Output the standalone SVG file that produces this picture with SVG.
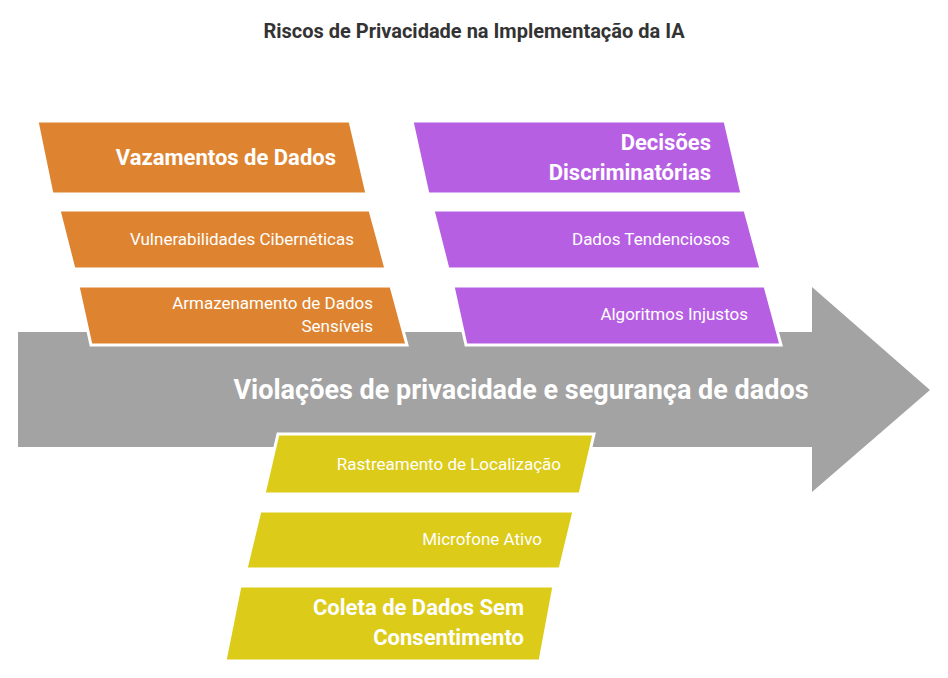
<svg xmlns="http://www.w3.org/2000/svg" width="948" height="678" viewBox="0 0 948 678">
<style>
text{font-family:Roboto,"Liberation Sans",sans-serif;fill:#fff}
.t{fill:#333;font-weight:bold;font-size:20px}
.b{font-weight:bold;font-size:22px}
.s{font-size:17px}
.o{fill:#de8431;stroke:#fff;stroke-width:3}
.p{fill:#b75fe3;stroke:#fff;stroke-width:3}
.y{fill:#dccb18;stroke:#fff;stroke-width:3}
</style>
<rect width="948" height="678" fill="#fff"/>
<text class="t" x="474" y="38" text-anchor="middle">Riscos de Privacidade na Implementação da IA</text>
<g id="spine">
<polygon points="18,332 812,332 812,287 930,390 812,492 812,447 18,447" fill="#a3a3a3"/>
<text class="b" x="521" y="399" text-anchor="middle" style="font-size:27px">Violações de privacidade e segurança de dados</text>
</g>
<g id="o1"><polygon class="o" points="37,121 350,121 367,194 52,194"/><text class="b" x="336" y="165" text-anchor="end">Vazamentos de Dados</text></g>
<g id="o2"><polygon class="o" points="59,210 370,210 386,269 74,269"/><text class="s" x="354" y="245" text-anchor="end">Vulnerabilidades Cibernéticas</text></g>
<g id="o3"><polygon class="o" points="78,286 391,286 407,345 91,345"/><text class="s" x="373" y="309" text-anchor="end">Armazenamento de Dados</text><text class="s" x="373" y="332" text-anchor="end">Sensíveis</text></g>
<g id="p1"><polygon class="p" points="412,121 725,121 742,194 428,194"/><text class="b" x="711" y="150" text-anchor="end">Decisões</text><text class="b" x="711" y="180" text-anchor="end">Discriminatórias</text></g>
<g id="p2"><polygon class="p" points="433,210 745,210 761,269 448,269"/><text class="s" x="730" y="245" text-anchor="end">Dados Tendenciosos</text></g>
<g id="p3"><polygon class="p" points="453,286 765,286 781,345 466,345"/><text class="s" x="748" y="320" text-anchor="end">Algoritmos Injustos</text></g>
<g id="y1"><polygon class="y" points="278,434 594,434 580,494 264,494"/><text class="s" x="561" y="470" text-anchor="end">Rastreamento de Localização</text></g>
<g id="y2"><polygon class="y" points="260,511 574,511 560,569 246,569"/><text class="s" x="542" y="545" text-anchor="end">Microfone Ativo</text></g>
<g id="y3"><polygon class="y" points="240,586 554,586 540,661 225,661"/><text class="b" x="524" y="615" text-anchor="end">Coleta de Dados Sem</text><text class="b" x="524" y="645" text-anchor="end">Consentimento</text></g>
</svg>
